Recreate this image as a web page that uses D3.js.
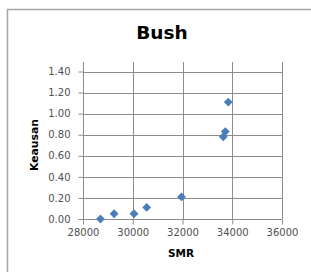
<!DOCTYPE html>
<html>
<head>
<meta charset="utf-8">
<script src="https://cdn.jsdelivr.net/npm/d3@7"></script>
<style>
  body { margin: 0; background: #fff; }
  svg { display: block; font-family: "DejaVu Sans", Verdana, sans-serif; }
</style>
</head>
<body>
<svg id="chart" width="311" height="272"></svg>
<script>
const smr = [28700, 29250, 30050, 30560, 31960, 33640, 33720, 33840]
const keausan = [0.00, 0.05, 0.05, 0.11, 0.21, 0.78, 0.83, 1.11]
const xTicks = [28000, 30000, 32000, 34000, 36000]
const yTicks = [0, 0.2, 0.4, 0.6, 0.8, 1.0, 1.2, 1.4]

const svg = d3.select('#chart')
const plotLeft = 83, plotRight = 282, plotBottom = 219, plotY14 = 71.5, plotTop = 62

// chart frame
svg.append('path')
    .attr('d', `M7.5,272 V9.5 H311`)
    .attr('fill', 'none')
    .attr('stroke', '#a6a6a6')
    .attr('stroke-width', 1.5)

const x = d3.scaleLinear().domain([28000, 36000]).range([plotLeft, plotRight])
const y = d3.scaleLinear().domain([0, 1.4]).range([plotBottom, plotY14])

// gridlines
svg.append('g').selectAll('line')
    .data(yTicks.slice(1))
    .enter().append('line')
    .attr('x1', plotLeft).attr('x2', plotRight)
    .attr('y1', d => Math.round(y(d)) + 0.5).attr('y2', d => Math.round(y(d)) + 0.5)
    .attr('stroke', '#8c8c8c')

svg.append('g').selectAll('line')
    .data(xTicks.slice(1))
    .enter().append('line')
    .attr('x1', d => Math.round(x(d)) + 0.5).attr('x2', d => Math.round(x(d)) + 0.5)
    .attr('y1', plotTop).attr('y2', plotBottom)
    .attr('stroke', '#8c8c8c')

// axes
const xAxis = d3.axisBottom(x).tickValues(xTicks).tickSize(5).tickPadding(4).tickFormat(d3.format('d'))
const yAxis = d3.axisLeft(y).tickValues(yTicks).tickSize(5).tickPadding(8).tickFormat(d3.format('.2f'))

const gx = svg.append('g').attr('transform', `translate(0,${plotBottom + 0.5})`).call(xAxis)
const gy = svg.append('g').attr('transform', `translate(${plotLeft + 0.5},0)`).call(yAxis)

gx.select('.domain').remove()
gy.select('.domain').remove()
svg.append('line').attr('x1', plotLeft).attr('x2', plotRight).attr('y1', plotBottom + 0.5).attr('y2', plotBottom + 0.5).attr('stroke', '#8c8c8c')
svg.append('line').attr('x1', plotLeft + 0.5).attr('x2', plotLeft + 0.5).attr('y1', plotTop).attr('y2', plotBottom + 5).attr('stroke', '#8c8c8c')

svg.selectAll('.tick line').attr('stroke', '#8c8c8c')
svg.selectAll('.tick text').attr('fill', '#505050').style('font-size', '10px').style('font-family', '"DejaVu Sans", sans-serif')

// titles
svg.append('text').attr('x', 162).attr('y', 39).attr('text-anchor', 'middle')
    .style('font-size', '18.5px').style('font-weight', 'bold').attr('fill', '#000').text('Bush')
svg.append('text').attr('x', 181).attr('y', 257).attr('text-anchor', 'middle')
    .style('font-size', '10.5px').style('font-weight', 'bold').attr('fill', '#000').text('SMR')
svg.append('text').attr('transform', 'translate(38,145) rotate(-90)').attr('text-anchor', 'middle')
    .style('font-size', '10.5px').style('font-weight', 'bold').attr('fill', '#000')
    .attr('textLength', 52).attr('lengthAdjust', 'spacingAndGlyphs').text('Keausan')

// points
const pts = smr.map((s, i) => ({ s: s, k: keausan[i] }))
svg.append('g').selectAll('path')
    .data(pts)
    .enter().append('path')
    .attr('d', d3.symbol().type(d3.symbolDiamond2).size(50))
    .attr('transform', d => `translate(${x(d.s)},${y(d.k)})`)
    .attr('fill', '#4a7ebb')
</script>
</body>
</html>
